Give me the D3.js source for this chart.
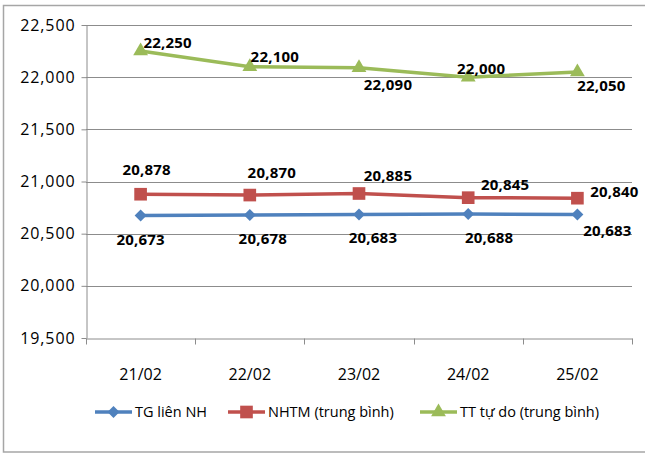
<!DOCTYPE html>
<html>
<head>
<meta charset="utf-8">
<script src="https://cdn.jsdelivr.net/npm/d3@7"></script>
<style>
  html, body { margin: 0; padding: 0; background: #fff; }
  svg { display: block; }
</style>
</head>
<body>
<div id="chart"></div>
<script>
// số liệu tỷ giá
const dates = ["21/02", "22/02", "23/02", "24/02", "25/02"];
const tgLienNH = [20673, 20678, 20683, 20688, 20683];
const nhtm = [20878, 20870, 20885, 20845, 20840];
const ttTuDo = [22250, 22100, 22090, 22000, 22050];
const seriesNames = ["TG liên NH", "NHTM (trung bình)", "TT tự do (trung bình)"];
const yTicks = [19500, 20000, 20500, 21000, 21500, 22000, 22500];

// vị trí nhãn dữ liệu (lệch so với điểm)
const labelOffsets = [
    [[0, 24], [13, 24], [14, 23], [21, 24], [30, 16]],
    [[6, -24], [22, -22], [29, -18], [37, -13], [37, -6]],
    [[27, -8], [25, -10], [29, 17], [13, -8], [24, 14]]
];

const W = 645, H = 453;
const margin = { left: 86, right: 13, top: 25, bottom: 115 };

const svg = d3.select('#chart')
    .append('svg')
    .attr('width', W)
    .attr('height', H);

// khung ngoài
svg.append('rect')
    .attr('x', 3.5).attr('y', 5.5)
    .attr('width', 700).attr('height', 446.5)
    .attr('fill', 'none')
    .attr('stroke', '#a6a6a6')
    .attr('stroke-width', 1.5);

const x = d3.scaleBand()
    .domain(dates)
    .range([margin.left, W - margin.right]);

const y = d3.scaleLinear()
    .domain([19500, 22500])
    .range([H - margin.bottom, margin.top]);

// lưới ngang
svg.append('g')
    .selectAll('line')
    .data(yTicks.slice(1))
    .enter()
    .append('line')
    .attr('x1', margin.left)
    .attr('x2', W - margin.right)
    .attr('y1', d => Math.round(y(d)) + 0.5)
    .attr('y2', d => Math.round(y(d)) + 0.5)
    .attr('stroke', '#8c8c8c')
    .attr('stroke-width', 1);

// trục Y
const yAxis = svg.append('g')
    .attr('transform', `translate(${margin.left + 0.5},0)`)
    .call(d3.axisLeft(y).tickValues(yTicks).tickSize(5).tickSizeOuter(0)
        .tickFormat(d3.format(',')));
yAxis.selectAll('line, path').attr('stroke', '#8c8c8c');
yAxis.selectAll('text')
    .attr('x', -11)
    .attr('font-family', '"Open Sans", sans-serif')
    .attr('font-size', '16px')
    .attr('letter-spacing', '0.9px')
    .attr('fill', '#000');

// trục X
const xAxis = svg.append('g')
    .attr('transform', `translate(0,${Math.round(y(19500)) + 0.5})`)
    .call(d3.axisBottom(x).tickSize(0).tickSizeOuter(0));
xAxis.select('path').attr('stroke', '#8c8c8c');
xAxis.selectAll('text')
    .attr('y', 30)
    .attr('font-family', '"Open Sans", sans-serif')
    .attr('font-size', '16px')
    .attr('fill', '#000');
// vạch chia giữa các nhóm
xAxis.selectAll('.sep')
    .data(dates.concat(['end']))
    .enter()
    .append('line')
    .attr('x1', (d, i) => Math.round(margin.left + i * x.step()) + 0.5)
    .attr('x2', (d, i) => Math.round(margin.left + i * x.step()) + 0.5)
    .attr('y1', 0).attr('y2', 6)
    .attr('stroke', '#8c8c8c');

const series = [
    { name: seriesNames[0], values: tgLienNH, color: '#4f81bd', shape: d3.symbolSquare, size: 72, rot: 45 },
    { name: seriesNames[1], values: nhtm, color: '#c0504d', shape: d3.symbolSquare, size: 160, rot: 0 },
    { name: seriesNames[2], values: ttTuDo, color: '#9bbb59', shape: d3.symbolTriangle, size: 95, rot: 0 }
];

const line = d3.line()
    .x((d, i) => x(dates[i]) + x.bandwidth() / 2)
    .y(d => y(d));

series.forEach((s, si) => {
    svg.append('path')
        .datum(s.values)
        .attr('d', line)
        .attr('fill', 'none')
        .attr('stroke', s.color)
        .attr('stroke-width', 3.5);

    svg.append('g')
        .selectAll('path')
        .data(s.values)
        .enter()
        .append('path')
        .attr('d', d3.symbol().type(s.shape).size(s.size))
        .attr('transform', (d, i) => `translate(${x(dates[i]) + x.bandwidth() / 2},${y(d)}) rotate(${s.rot})`)
        .attr('fill', s.color);

    svg.append('g')
        .selectAll('text')
        .data(s.values)
        .enter()
        .append('text')
        .attr('x', (d, i) => x(dates[i]) + x.bandwidth() / 2 + labelOffsets[si][i][0])
        .attr('y', (d, i) => y(d) + labelOffsets[si][i][1])
        .attr('dy', '0.35em')
        .attr('text-anchor', 'middle')
        .attr('font-family', '"Open Sans", sans-serif')
        .attr('font-weight', 'bold')
        .attr('font-size', '15px')
        .attr('letter-spacing', '0.2px')
        .attr('fill', '#000')
        .text(d => d3.format(',')(d));
});

// chú giải
const legendX = [95, 228, 420];
const legend = svg.append('g')
    .selectAll('g')
    .data(series)
    .enter()
    .append('g')
    .attr('transform', (d, i) => `translate(${legendX[i]},412)`);

legend.append('line')
    .attr('x1', 0).attr('x2', 37)
    .attr('stroke', d => d.color)
    .attr('stroke-width', 3.5);

legend.append('path')
    .attr('d', d => d3.symbol().type(d.shape).size(d.size)())
    .attr('transform', d => `translate(18.5,0) rotate(${d.rot})`)
    .attr('fill', d => d.color);

legend.append('text')
    .attr('x', 40)
    .attr('dy', '0.35em')
    .attr('font-family', '"Open Sans", sans-serif')
    .attr('font-size', '14.5px')
    .attr('fill', '#000')
    .text(d => d.name);
</script>
</body>
</html>
